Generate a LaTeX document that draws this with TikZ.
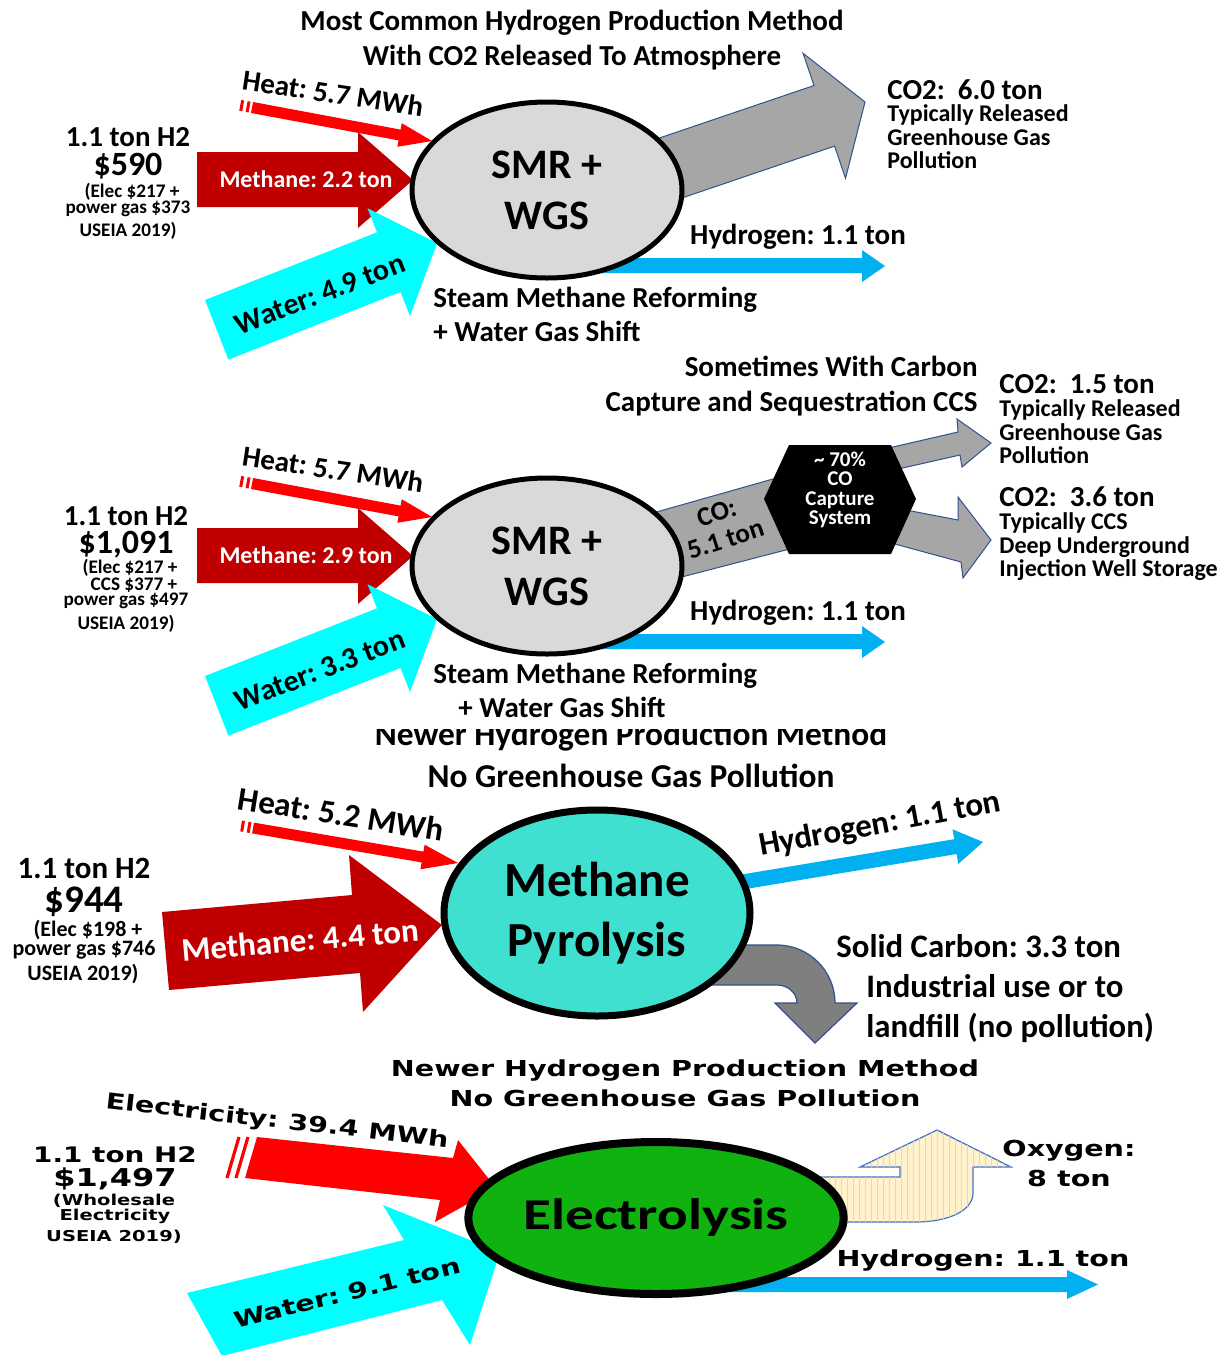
\documentclass[tikz,border=0pt]{standalone}
\usepackage{fontspec}
\setmainfont{Carlito}
\newfontfamily\widefont[FakeStretch=1.3]{DejaVu Sans}
\newfontfamily\widecal[FakeStretch=1.3]{Carlito}
\usetikzlibrary{shapes.geometric,patterns}
\definecolor{heatred}{RGB}{255,0,0}
\definecolor{methred}{RGB}{192,0,0}
\definecolor{watercyan}{RGB}{0,255,255}
\definecolor{hydblue}{RGB}{0,176,240}
\definecolor{smrgray}{RGB}{217,217,217}
\definecolor{cogray}{RGB}{166,166,166}
\definecolor{edgeblue}{RGB}{47,82,143}
\definecolor{pyroturq}{RGB}{64,224,208}
\definecolor{carbgray}{RGB}{127,127,127}
\definecolor{elecgreen}{RGB}{16,178,16}
\definecolor{oxyyellow}{RGB}{255,242,204}
\definecolor{oxystripe}{RGB}{235,215,160}
\definecolor{oxyedge}{RGB}{68,114,196}
\frenchspacing
\begin{document}
\begin{tikzpicture}[x=0.5pt, y=-0.5pt, inner sep=0pt, line join=miter,
  txt/.style 2 args={font=\bfseries\fontsize{#1}{#2}\selectfont},
  wtxt/.style 2 args={font=\widefont\bfseries\fontsize{#1}{#2}\selectfont},
  grayarrow/.style={fill=cogray, draw=edgeblue, line width=0.5pt},
  proc/.style={ellipse, draw=black, align=center}]
\useasboundingbox (0,0) rectangle (1222,1355);

\node[txt={14.5}{17}, anchor=base] (title1a) at (572,30) {Most Common Hydrogen Production Method};
\node[txt={14.5}{17}, anchor=base] (title1b) at (572,65) {With CO2 Released To Atmosphere};
\draw[grayarrow] (589.7,161.7) -- (814,85.5) -- (803.1,53.3) -- (865,102) -- (845.5,178.3) -- (834.6,146.1) -- (610.3,222.3) -- cycle;
\node[txt={14.5}{17}, anchor=base west] (co2a) at (887,99) {CO2:~~6.0 ton};
\foreach \t [count=\k] in {Typically Released, Greenhouse Gas, Pollution}
  \node[txt={12}{14}, anchor=base west] (co2a\k) at (887,{121.7+23.5*(\k-1)}) {\t};
\node[txt={14.5}{17}, anchor=base] (cost1) at (128,146) {1.1 ton H2};
\node[txt={17}{20}, anchor=base] (price1) at (128,175) {\$590};
\node[txt={9.6}{11}, anchor=base] (elec1) at (132,197) {(Elec \$217 +};
\node[txt={9.6}{11}, anchor=base] (gas1) at (128,213) {power gas \$373};
\node[txt={9.6}{11}, anchor=base] (src1) at (128,236) {USEIA 2019)};

\draw[grayarrow] (600,528) -- (780,477) -- (805,545) -- (620,593) -- cycle;

\foreach \dy/\mt/\wt/\wx [count=\i] in {0/2.2/4.9/433, 376/2.9/3.3/458}{
\begin{scope}[shift={(0,\dy)}]
  \fill[heatred] (253,102) -- (400.6,129.6) -- (401.8,123.2) -- (432,141) -- (397.4,146.8) -- (398.6,140.4) -- (251,113) -- cycle;
  \draw[heatred, line width=1.5pt] (249.1,101.4) -- (247.1,112.2) (242.7,100.2) -- (240.7,111);
  \fill[methred] (197,152) -- (358,152) -- (358,132) -- (413,180) -- (358,228) -- (358,207) -- (197,207) -- cycle;
  \fill[watercyan] (205,300) -- (377,232.3) -- (367.5,208.2) -- (437.1,243.1) -- (410,316) -- (400.5,291.9) -- (228.4,359.6) -- cycle;
  \fill[hydblue] (600,258) -- (862,258) -- (862,250) -- (885,266) -- (862,282) -- (862,273) -- (600,273) -- cycle;
  \node[proc, fill=smrgray, line width=2.5pt, minimum width=135pt, minimum height=88pt, txt={21}{25.5}] (smr\i) at (547,190) {SMR +\\WGS};
  \node[txt={14.5}{17}, rotate=-8.5] (heat\i) at (333,93) {Heat: 5.7 MWh};
  \node[txt={12}{14}, text=white] (meth\i) at (306,179) {Methane: \mt\ ton};
  \node[txt={15}{17}, rotate=21] (water\i) at (320,294) {Water: \wt\ ton};
  \node[txt={14.5}{17}, anchor=base] (hyd\i) at (798,244) {Hydrogen: 1.1 ton};
  \node[txt={14.5}{17}, anchor=base west] (steam\i) at (433,307) {Steam Methane Reforming};
  \node[txt={14.5}{17}, anchor=base west] (wgs\i) at (\wx,341) {+ Water Gas Shift};
\end{scope}
}

\draw[grayarrow] (880,450) -- (958,432) -- (957,419) -- (991,443) -- (962,467) -- (960,455) -- (885,472) -- cycle;
\draw[grayarrow] (880,505) -- (958,520) -- (958,497) -- (991,540) -- (963,578) -- (961,562) -- (880,540) -- cycle;
\fill[black] (764,499) -- (789,445) -- (891,445) -- (916,499) -- (891,554) -- (789,554) -- cycle;
\node[txt={10.5}{9.7}, text=white, align=center] (ccs) at (840,490) {\textasciitilde\ 70\%\\CO\\Capture\\System};
\node[txt={13.5}{14}, rotate=18, align=center] (coband) at (721,526) {CO:\\5.1 ton};
\node[txt={14.5}{17}, anchor=base east] (some) at (978,376) {Sometimes With Carbon};
\node[txt={14.5}{17}, anchor=base east] (capt) at (978,411) {Capture and Sequestration CCS};
\node[txt={14.5}{17}, anchor=base west] (co2b) at (999,393) {CO2:~~1.5 ton};
\foreach \t [count=\k] in {Typically Released, Greenhouse Gas, Pollution}
  \node[txt={12}{14}, anchor=base west] (co2b\k) at (999,{416.7+23.5*(\k-1)}) {\t};
\node[txt={14.5}{17}, anchor=base west] (co2c) at (999,506) {CO2:~~3.6 ton};
\foreach \t [count=\k] in {Typically CCS, Deep Underground, Injection Well Storage}
  \node[txt={12}{14}, anchor=base west] (co2c\k) at (999,{529.7+23.5*(\k-1)}) {\t};
\node[txt={14.5}{17}, anchor=base] (cost2) at (126,525) {1.1 ton H2};
\node[txt={17}{20}, anchor=base] (price2) at (126,553) {\$1,091};
\node[txt={9.6}{11}, anchor=base] (elec2) at (130,573) {(Elec \$217 +};
\node[txt={9.6}{11}, anchor=base] (ccs2) at (134,590) {CCS \$377 +};
\node[txt={9.6}{11}, anchor=base] (gas2) at (126,605) {power gas \$497};
\node[txt={9.6}{11}, anchor=base] (src2) at (126,629) {USEIA 2019)};

\begin{scope}
  \clip (300,729) rectangle (1000,760);
  \node[txt={16.7}{20}, anchor=base] (title3a) at (631,745) {Newer Hydrogen Production Method};
\end{scope}
\node[txt={16.7}{20}, anchor=base] (title3b) at (631,787) {No Greenhouse Gas Pollution};
\fill[heatred] (253.9,822.6) -- (423.4,851.6) -- (424.6,844.7) -- (458,863) -- (420.4,869.3) -- (421.6,862.4) -- (252.1,833.4) -- cycle;
\draw[heatred, line width=1.5pt] (250,821.9) -- (248.2,832.7) (243.5,820.8) -- (241.7,831.6);
\fill[methred] (162,912) -- (352,895) -- (349,855) -- (442,925) -- (363,1012) -- (360,973) -- (169,990) -- cycle;
\fill[hydblue] (698.8,881.6) -- (954.2,839.2) -- (952.5,829.3) -- (983,842) -- (958.3,863.9) -- (956.6,854) -- (701.2,896.4) -- cycle;
\draw[fill=carbgray, draw=edgeblue, line width=0.6pt] (700,945) -- (777,945) .. controls (809,945) and (835,971) .. (835,1003) -- (857,1003) -- (815,1043) -- (775,1003) -- (797,1003) .. controls (797,993) and (788,985) .. (777,985) -- (700,985) -- cycle;
\node[proc, fill=pyroturq, line width=3.5pt, minimum width=153pt, minimum height=103pt, txt={24.5}{30}] (pyro) at (597,913) {Methane\\Pyrolysis};
\node[txt={16.5}{19}, rotate=-9] (heat3) at (341,814) {Heat: 5.2 MWh};
\node[txt={16.5}{19}, rotate=5, text=white] (meth3) at (300,940) {Methane: 4.4 ton};
\node[txt={16.5}{19}, rotate=10.5] (hyd3) at (880,825) {Hydrogen: 1.1 ton};
\node[txt={16.4}{19}, anchor=base west] (carb1) at (836,957) {Solid Carbon: 3.3 ton};
\node[txt={16.4}{19}, anchor=base west] (carb2) at (866,997) {Industrial use or to};
\node[txt={16.4}{19}, anchor=base west] (carb3) at (866,1037) {landfill (no pollution)};
\node[txt={15.5}{18}, anchor=base] (cost3) at (84,878) {1.1 ton H2};
\node[txt={19.5}{22}, anchor=base] (price3) at (84,912) {\$944};
\node[txt={11}{13}, anchor=base] (elec3) at (88,936) {(Elec \$198 +};
\node[txt={11}{13}, anchor=base] (gas3) at (84,955) {power gas \$746};
\node[txt={11}{13}, anchor=base] (src3) at (83,980) {USEIA 2019)};

\node[wtxt={11}{13}, anchor=base] (title4a) at (685,1076) {Newer Hydrogen Production Method};
\node[wtxt={11}{13}, anchor=base] (title4b) at (685,1106) {No Greenhouse Gas Pollution};
\fill[heatred] (257,1137) -- (453,1158) -- (458,1140) -- (496,1188) -- (435,1222) -- (440,1200) -- (245,1178) -- cycle;
\draw[heatred, line width=1.6pt] (239,1137) -- (227,1178) (248,1137) -- (236,1178);
\fill[watercyan] (187,1293) -- (404,1240) -- (383,1205) -- (500,1252) -- (470,1345) -- (442,1300) -- (222,1356) -- cycle;
\fill[hydblue] (700,1277) -- (1067,1277) -- (1067,1270) -- (1098,1284.5) -- (1067,1299) -- (1067,1292) -- (700,1292) -- cycle;
\draw[fill=oxyyellow, draw=oxyedge, line width=0.6pt, postaction={pattern=vertical lines, pattern color=oxystripe}] (800,1177) -- (900,1177) -- (900,1167) -- (860,1167) -- (937,1130) -- (1011,1167) -- (973,1167) -- (973,1193) .. controls (973,1210) and (950,1222) .. (915,1222) -- (800,1222) -- cycle;
\node[proc, fill=elecgreen, line width=4pt, minimum width=179pt, minimum height=76pt, font=\widecal\bfseries\fontsize{22}{26}\selectfont] (elec) at (656,1218) {Electrolysis};
\node[wtxt={11}{13}, rotate=-6.5] (elecin) at (277,1122) {Electricity: 39.4 MWh};
\node[wtxt={11}{13}, rotate=14] (water4) at (347,1293) {Water: 9.1 ton};
\node[wtxt={11}{13}, anchor=base] (oxy1) at (1069,1156) {Oxygen:};
\node[wtxt={11}{13}, anchor=base] (oxy2) at (1069,1186) {8 ton};
\node[wtxt={11}{13}, anchor=base] (hyd4) at (983,1266) {Hydrogen: 1.1 ton};
\node[wtxt={10.7}{12}, anchor=base] (cost4) at (115,1162) {1.1 ton H2};
\node[wtxt={12.3}{14}, anchor=base] (price4) at (115,1186) {\$1,497};
\node[wtxt={7.5}{9}, anchor=base] (whole4) at (114,1205) {(Wholesale};
\node[wtxt={7.5}{9}, anchor=base] (elec4) at (115,1220) {Electricity};
\node[wtxt={7.5}{9}, anchor=base] (src4) at (114,1241) {USEIA 2019)};
\end{tikzpicture}
\end{document}
